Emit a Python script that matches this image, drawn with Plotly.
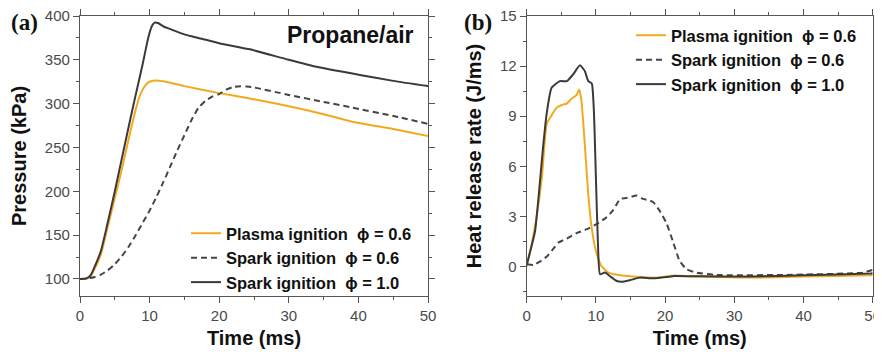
import plotly.graph_objects as go

# ---------------- data: panel (a) pressure ----------------
t_plasma_p = [0, 1, 1.5, 2, 3, 4, 5, 6, 7, 8, 8.5, 9, 9.5, 10, 10.7, 11.5, 12, 15, 20, 24.4, 30, 35, 38.8, 45, 50]
p_plasma = [100, 100.5, 103, 110, 128, 160, 192, 225, 260, 293, 307, 316, 322, 325, 326.5, 326, 325.5, 320, 312, 306, 297, 288, 280, 271, 263]

t_spark06_p = [0, 1, 2, 3, 4, 5, 6, 7, 8, 9, 10, 11, 12, 13, 14, 15, 16, 17, 18, 19, 20, 21, 22, 23, 24, 25, 30, 35, 38.8, 45, 50]
p_spark06 = [100, 100.5, 102, 105, 110, 117, 126, 137, 150, 164, 178, 194, 211, 229, 247, 264, 281, 295, 303, 308, 311, 316, 319, 320, 319.5, 318.5, 310, 302, 296, 286, 277]

t_spark10_p = [0, 1, 1.5, 2, 3, 4, 5, 6, 7, 8, 9, 9.8, 10.3, 10.7, 11.2, 12, 13, 15, 17.5, 20, 22.5, 24.4, 30, 34, 40, 45, 50]
p_spark10 = [100, 101, 104, 112, 132, 165, 200, 237, 274, 310, 345, 375, 388, 392.5, 392, 388, 385, 379, 374, 369, 365, 362, 350, 342, 333, 326, 320]

# ---------------- data: panel (b) heat release rate ----------------
t_plasma_h = [0, 0.7, 1.4, 2.2, 2.9, 3.6, 4.3, 5.0, 5.8, 6.5, 7.2, 7.6, 7.9, 8.4, 8.9, 9.4, 10.0, 10.8, 11.8, 13.5, 15.4, 17.3, 19.2, 20.7, 21.4, 25, 32.3, 40, 49.6, 50]
h_plasma = [0, 1.3, 2.9, 5.35, 8.55, 9.06, 9.5, 9.66, 9.76, 10.06, 10.26, 10.6, 9.96, 7.3, 4.3, 2.3, 0.94, 0.04, -0.36, -0.52, -0.6, -0.66, -0.66, -0.56, -0.54, -0.6, -0.66, -0.6, -0.52, -0.5]

t_spark06_h = [0, 1, 1.9, 2.9, 3.8, 4.6, 5.8, 7.2, 8.7, 10.1, 11.5, 12.5, 13.5, 14.4, 15.9, 16.8, 17.8, 18.3, 19.2, 20.2, 21.1, 22.1, 23.1, 24.5, 27.4, 37, 48.6, 49.8, 50]
h_spark06 = [0.14, 0.1, 0.3, 0.6, 1.04, 1.44, 1.68, 2.0, 2.24, 2.54, 2.94, 3.38, 4.05, 4.1, 4.25, 4.05, 3.95, 3.85, 3.35, 2.6, 1.54, 0.34, -0.16, -0.36, -0.5, -0.5, -0.36, -0.22, -0.2]

t_spark10_h = [0, 0.5, 1.2, 1.7, 2.4, 2.9, 3.6, 4.8, 5.8, 6.7, 7.7, 8.4, 8.9, 9.4, 9.7, 10.0, 10.3, 10.6, 11.3, 12.0, 13.0, 13.9, 14.9, 16.3, 17.8, 18.3, 20.2, 21.4, 25, 32.3, 40, 49.6, 50]
h_spark10 = [0.1, 0.9, 2.1, 4.1, 7.3, 9.2, 10.7, 11.1, 11.1, 11.5, 12.05, 11.7, 11.1, 10.96, 9.4, 5.35, 1.3, -0.46, -0.36, -0.56, -0.86, -0.9, -0.82, -0.66, -0.7, -0.7, -0.62, -0.56, -0.58, -0.6, -0.52, -0.42, -0.4]

names = ["Plasma ignition\u00a0\u00a0\u03d5 = 0.6",
         "Spark ignition\u00a0\u00a0\u03d5 = 0.6",
         "Spark ignition\u00a0\u00a0\u03d5 = 1.0"]

ORANGE = "#F2A91E"
DARK = "#3a3a3a"
DASHC = "#454545"
DASH = "6px,4px"

# The page body has an 8px default margin, so the figure is drawn 8px in
# from the window's top-left corner; size it to fill the 882x352 window.
OFF = 8
W, H = 882 - OFF, 352 - OFF


def PX(px):
    return (px - OFF) / W


def PY(py):
    return 1 - (py - OFF) / H


fig = go.Figure()

# panel (a)
fig.add_trace(go.Scatter(x=t_plasma_p, y=p_plasma, mode="lines", name=names[0],
                         line=dict(color=ORANGE, width=2, shape="spline", smoothing=0.6),
                         xaxis="x", yaxis="y", legend="legend"))
fig.add_trace(go.Scatter(x=t_spark06_p, y=p_spark06, mode="lines", name=names[1],
                         line=dict(color=DASHC, width=2, dash=DASH, shape="spline", smoothing=0.6),
                         xaxis="x", yaxis="y", legend="legend"))
fig.add_trace(go.Scatter(x=t_spark10_p, y=p_spark10, mode="lines", name=names[2],
                         line=dict(color=DARK, width=2, shape="spline", smoothing=0.6),
                         xaxis="x", yaxis="y", legend="legend"))

# panel (b)
fig.add_trace(go.Scatter(x=t_plasma_h, y=h_plasma, mode="lines", name=names[0],
                         line=dict(color=ORANGE, width=2, shape="spline", smoothing=0.5),
                         xaxis="x2", yaxis="y2", legend="legend2"))
fig.add_trace(go.Scatter(x=t_spark06_h, y=h_spark06, mode="lines", name=names[1],
                         line=dict(color=DASHC, width=2, dash=DASH, shape="spline", smoothing=0.5),
                         xaxis="x2", yaxis="y2", legend="legend2"))
fig.add_trace(go.Scatter(x=t_spark10_h, y=h_spark10, mode="lines", name=names[2],
                         line=dict(color=DARK, width=2, shape="spline", smoothing=0.5),
                         xaxis="x2", yaxis="y2", legend="legend2"))

FONT = "Liberation Sans, Arial, sans-serif"
tickfont = dict(family=FONT, size=15, color="#4a4a4a")
titlefont = dict(family=FONT, size=20, color="#111111", weight="bold")
AXC = "#555555"


def xax(domain, anchor):
    return dict(domain=domain, anchor=anchor, range=[0, 50], dtick=10, tick0=0,
                automargin=False, ticklabeloverflow="allow",
                showline=True, linecolor=AXC, linewidth=1.2, mirror="allticks",
                ticks="outside", ticklen=6, tickcolor=AXC, tickwidth=1.2,
                minor=dict(dtick=5, ticklen=3, ticks="outside", tickcolor=AXC, tickwidth=1.2),
                showgrid=False, zeroline=False, tickfont=tickfont,
                title=dict(text="Time (ms)", font=titlefont, standoff=7))


def yax(domain, anchor, rng, dtick, title, standoff):
    return dict(domain=domain, anchor=anchor, range=rng, dtick=dtick, tick0=0,
                automargin=False, ticklabeloverflow="allow",
                showline=True, linecolor=AXC, linewidth=1.2, mirror="allticks",
                ticks="outside", ticklen=6, tickcolor=AXC, tickwidth=1.2,
                minor=dict(dtick=dtick / 2, ticklen=3, ticks="outside", tickcolor=AXC, tickwidth=1.2),
                showgrid=False, zeroline=False, tickfont=tickfont,
                title=dict(text=title, font=titlefont, standoff=standoff))


ydom = [PY(296), PY(16)]
legfont = dict(family=FONT, size=16.5, color="#111111", weight="bold")

fig.update_layout(
    width=W, height=H,
    margin=dict(l=0, r=0, t=0, b=0),
    paper_bgcolor="white", plot_bgcolor="white",
    xaxis=xax([PX(80), PX(428)], "y"),
    yaxis=yax(ydom, "x", [80.6, 400], 50, "Pressure (kPa)", 12),
    xaxis2=xax([PX(526.7), PX(872.7)], "y2"),
    yaxis2=yax(ydom, "x2", [-1.76, 15], 3, "Heat release rate (J/ms)", 12),
    legend=dict(x=PX(186), y=PY(216), xanchor="left", yanchor="top",
                bgcolor="rgba(0,0,0,0)", font=legfont, traceorder="normal"),
    legend2=dict(x=PX(631), y=PY(18), xanchor="left", yanchor="top",
                 bgcolor="rgba(0,0,0,0)", font=legfont, traceorder="normal"),
    annotations=[
        dict(text="(a)", x=PX(9), y=PY(23), xref="paper", yref="paper",
             xanchor="left", yanchor="middle", showarrow=False,
             font=dict(family="Liberation Serif, Times New Roman, serif", size=23, color="#111111", weight="bold")),
        dict(text="(b)", x=PX(462), y=PY(23), xref="paper", yref="paper",
             xanchor="left", yanchor="middle", showarrow=False,
             font=dict(family="Liberation Serif, Times New Roman, serif", size=23, color="#111111", weight="bold")),
        dict(text="Propane/air", x=PX(416), y=PY(35), xref="paper", yref="paper",
             xanchor="right", yanchor="middle", showarrow=False,
             font=dict(family=FONT, size=23, color="#111111", weight="bold")),
    ],
)

fig.write_html("out.html")
